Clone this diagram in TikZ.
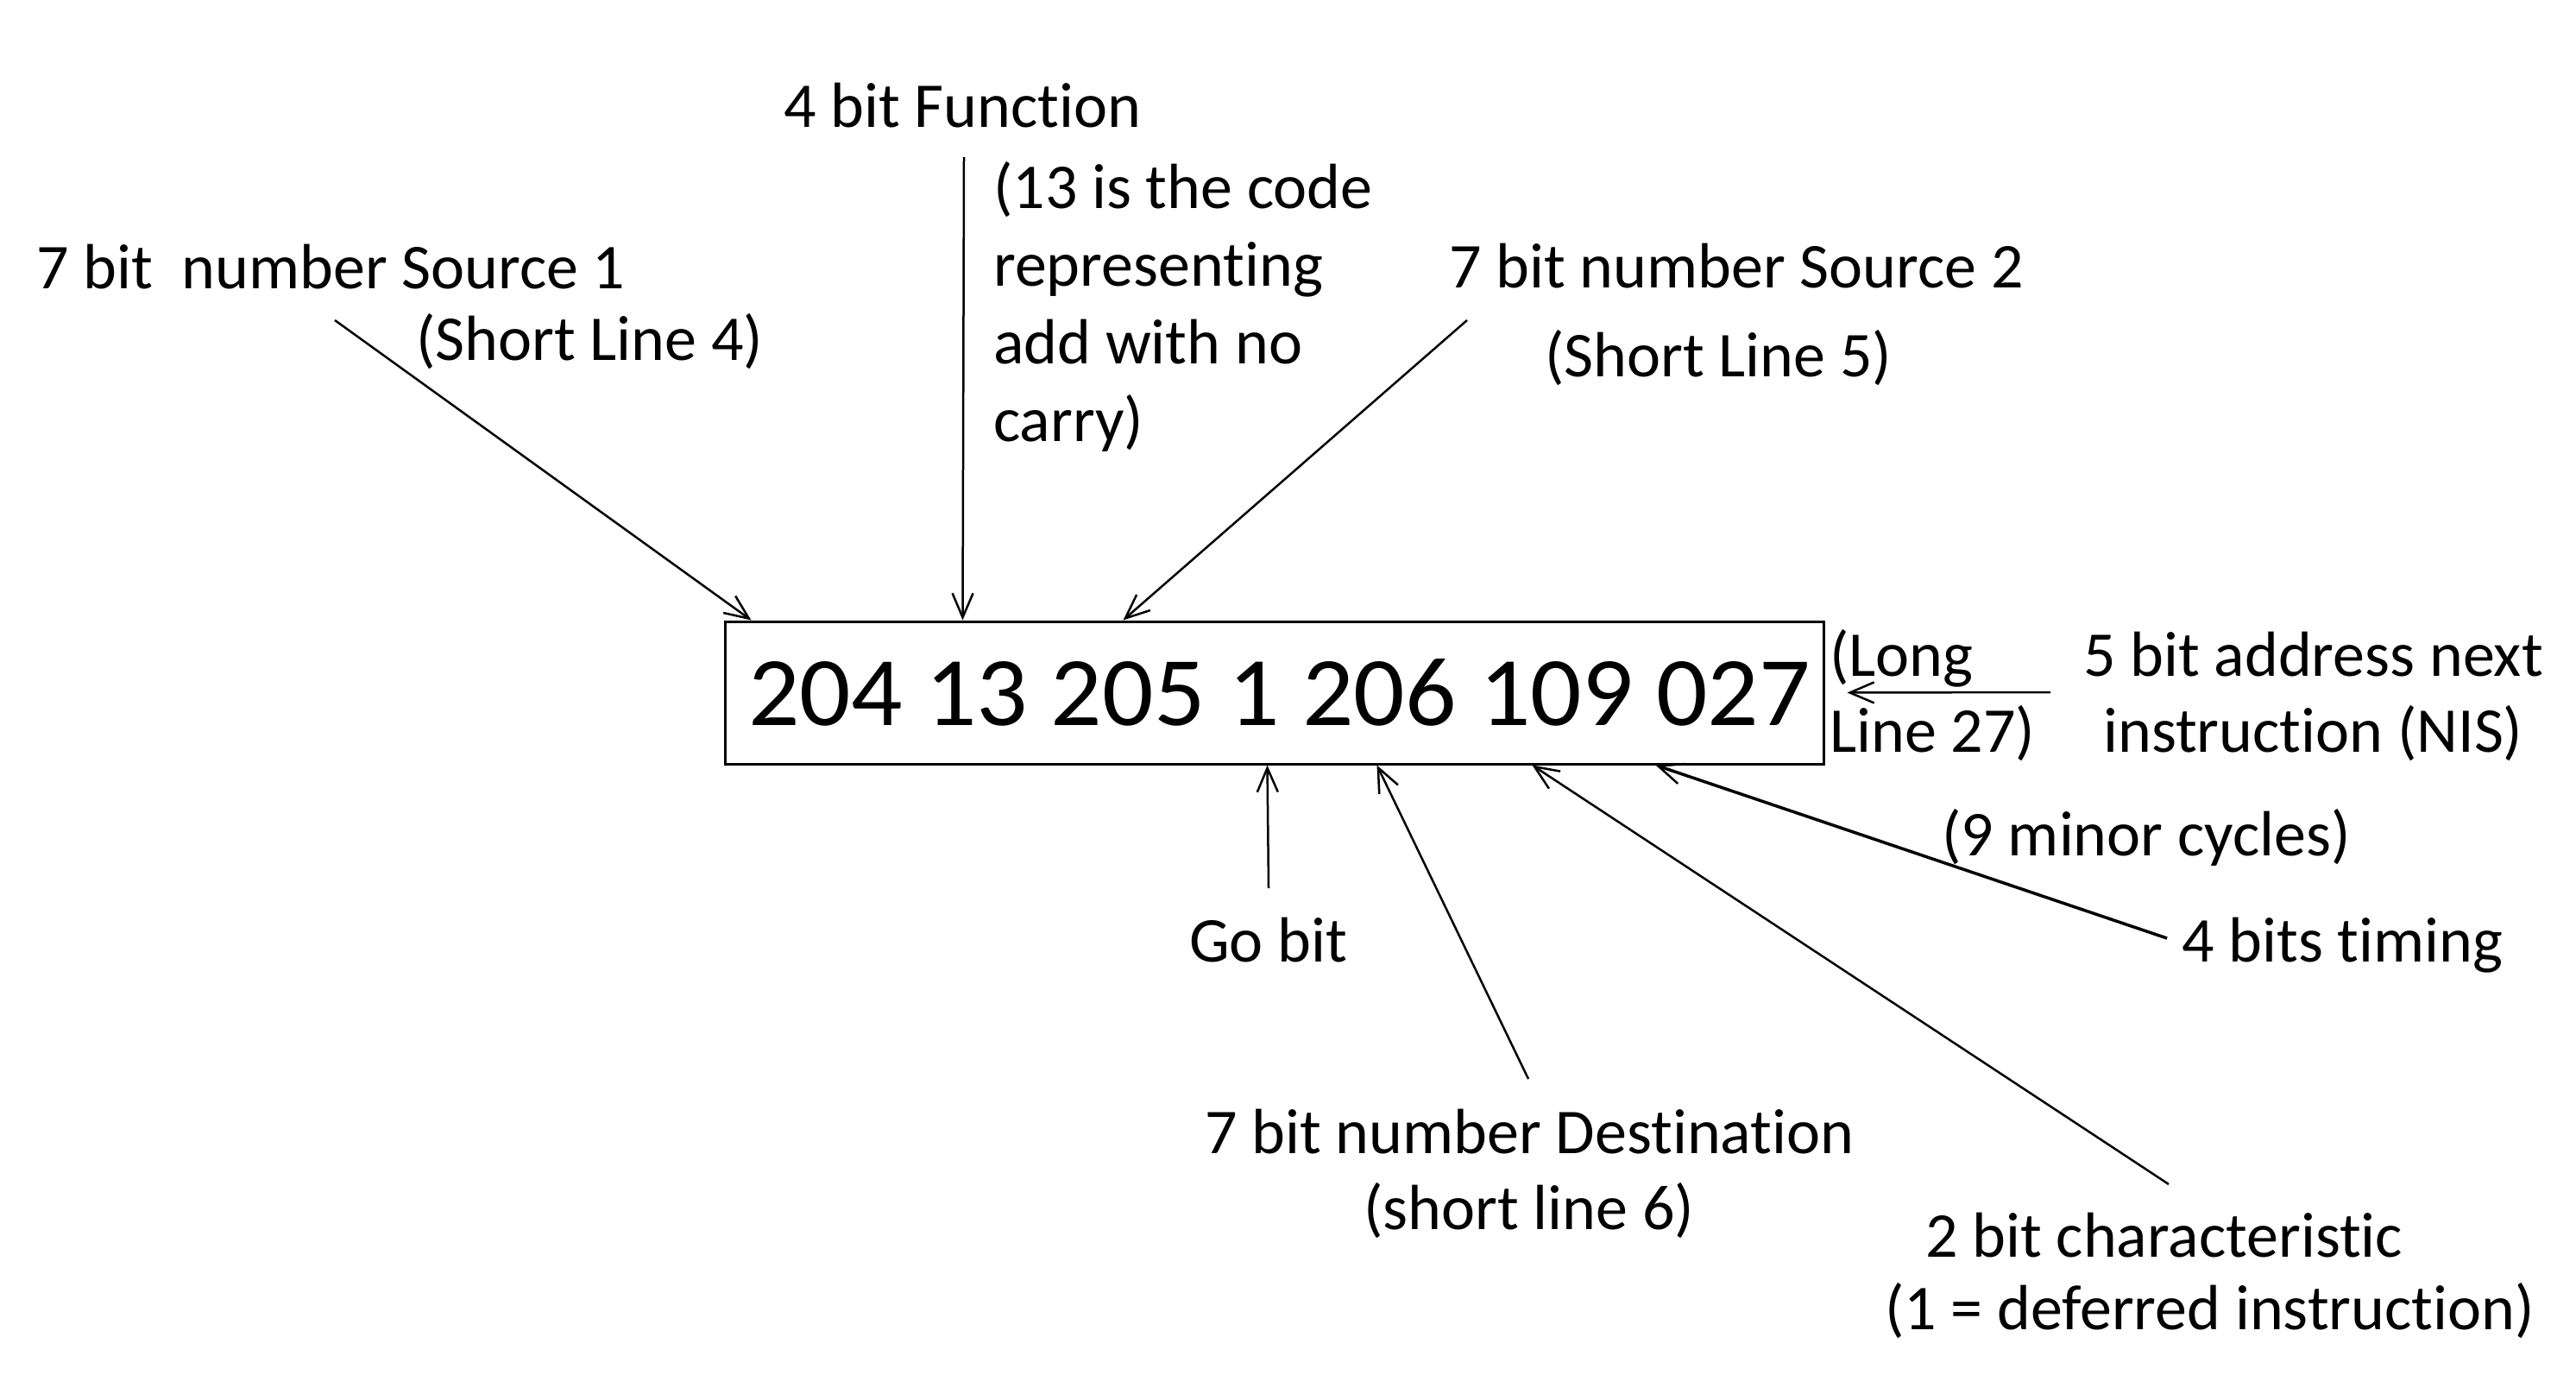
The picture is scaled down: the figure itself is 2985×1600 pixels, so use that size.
\documentclass[tikz,border=0pt]{standalone}
\usepackage{graphicx}
\usepackage{fontspec}
\setmainfont{Carlito}[Ligatures=NoCommon]
\usetikzlibrary{arrows.meta}
\newcommand\tipair{t\kern0pt i}
\begin{document}
\begin{tikzpicture}[x=1pt,y=-1pt,
  lbl/.style={anchor=base west,inner sep=0pt,font=\fontsize{74}{90}\selectfont},
  arr/.style={line width=2.5pt,-{Straight Barb[length=28pt,width=24pt,line width=2.5pt]}}]
\useasboundingbox[fill=white] (0,0) rectangle (2985,1600);
% instruction word
\node[draw,line width=3pt,minimum width=1273pt,minimum height=165pt,inner sep=0pt,
      font=\fontsize{114}{130}\selectfont] (word) at (1476.5,802.5) {\kern12pt\scalebox{1.03}[1]{204 13 205 1 206 109 027}};
% labels
\node[lbl] (func) at (908,148) {4 bit Func\tipair on};
\node[lbl] (funcnote) at (1151,241) {\vtop{\baselineskip=90pt\hbox{(13 is the code}\hbox{representing}\hbox{add with no}\hbox{carry)}}};
\node[lbl] (src1) at (42,334) {7 bit\ \ number Source 1};
\node[lbl] (src1b) at (482,417) {(Short Line 4)};
\node[lbl] (src2) at (1679,333) {7 bit number Source 2};
\node[lbl] (src2b) at (1790,436) {(Short Line 5)};
\node[lbl] (long) at (2120,783) {(Long};
\node[lbl] (longb) at (2120,871) {Line 27)};
\node[lbl] (nis) at (2414,783) {5 bit address next};
\node[lbl] (nisb) at (2437,871) {instruc\tipair on (NIS)};
\node[lbl] (cyc) at (2250,991) {(9 minor cycles)};
\node[lbl] (timing) at (2528,1114) {4 bits \tipair ming};
\node[lbl] (go) at (1378,1114) {Go bit};
\node[lbl] (dest) at (1396,1336) {7 bit number Destina\tipair on};
\node[lbl] (destb) at (1580,1424) {(short line 6)};
\node[lbl] (char) at (2231,1456) {2 bit characteris\tipair c};
\node[lbl] (charb) at (2184,1540) {(1 = deferred instruc\tipair on)};
% arrow start points
\coordinate (s1) at (388,371);
\coordinate (fn) at (1117,182);
\coordinate (s2) at (1700,371);
\coordinate (ns) at (2376,802);
\coordinate (gb) at (1470,1029);
\coordinate (ds) at (1771,1250);
\coordinate (ch) at (2513,1372);
\coordinate (tm) at (2511,1087);
% arrows
\draw[arr] (s1) -- ([xshift=32pt]word.north west);
\draw[arr] (fn) -- ([xshift=277pt]word.north west);
\draw[arr] (s2) -- ([xshift=463pt]word.north west);
\draw[arr] (ns) -- ([xshift=26pt]word.east);
\draw[arr] (gb) -- ([xshift=630pt]word.south west);
\draw[arr] (ds) -- ([xshift=757pt]word.south west);
\draw[arr] (ch) -- ([xshift=937pt]word.south west);
\draw[arr,line width=3.5pt] (tm) -- ([xshift=1080pt]word.south west);
\end{tikzpicture}
\end{document}
